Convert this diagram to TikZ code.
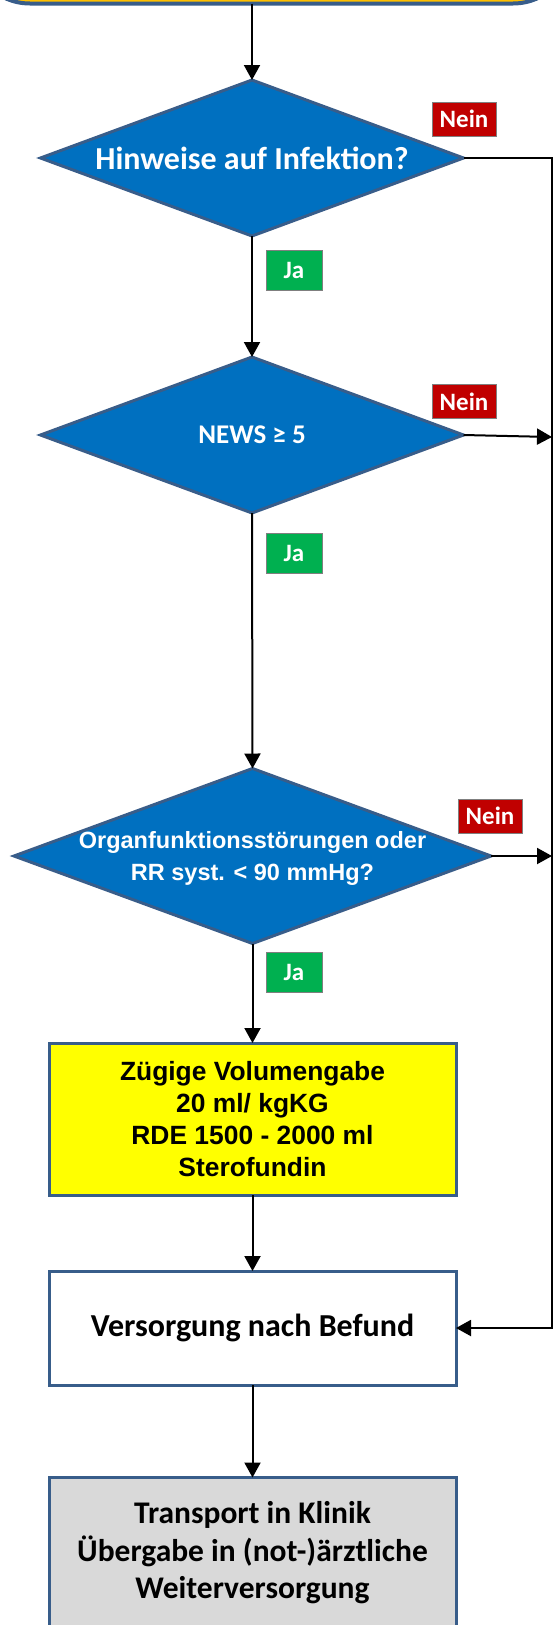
\documentclass[tikz,border=0pt]{standalone}
\usepackage{fontspec}
\setmainfont{Carlito}
\newfontfamily\arialfont{Liberation Sans}
\usetikzlibrary{shapes.geometric,arrows.meta}
\definecolor{outline}{HTML}{385D8A}
\definecolor{decblue}{HTML}{0070C0}
\definecolor{jagreen}{HTML}{00B050}
\definecolor{neinred}{HTML}{C00000}
\definecolor{topfill}{HTML}{FFC000}
\definecolor{grayfill}{HTML}{D9D9D9}
\definecolor{fluidfill}{HTML}{FFFF00}
\definecolor{tagedge}{HTML}{7F7F7F}

\begin{document}
\begin{tikzpicture}[x=1pt,y=-1pt,
  decision/.style={diamond, draw=outline, line width=3pt, fill=decblue,
    inner sep=0pt, outer sep=0pt},
  dtext/.style={text=white, align=center, inner sep=0pt},
  stepbox/.style={rectangle, draw=outline, line width=3pt, minimum width=407pt,
    align=center, inner sep=0pt, outer sep=0pt},
  tag/.style={rectangle, draw=tagedge, line width=0.8pt, text=white,
    font=\bfseries\fontsize{25}{30}\selectfont, inner sep=0pt},
  yes/.style={tag, fill=jagreen, minimum width=56pt, minimum height=40pt},
  no/.style={tag, fill=neinred, minimum width=64pt, minimum height=34pt},
  arr/.style={draw=black, line width=2pt, -{Triangle[width=16pt,length=15pt]}},
]
\useasboundingbox (0,0) rectangle (555,1625);

% box continuing above the top edge
\node[draw=outline, line width=4pt, fill=topfill, rounded corners=60pt,
  minimum width=603pt, minimum height=83.5pt, inner sep=0pt, outer sep=0pt]
  (start) at (271.5,-38.25) {};

% decisions
\node[decision, minimum width=423pt, minimum height=156pt] (d1) at (252,158) {};
\node[dtext, font=\bfseries\fontsize{32}{38}\selectfont] (t1) at (d1)
  {Hinweise auf Infektion?};

\node[decision, minimum width=423pt, minimum height=156pt] (d2) at (252,435) {};
\node[dtext, font=\bfseries\fontsize{27}{32}\selectfont] (t2) at (d2)
  {NEWS ≥ 5};

\node[decision, minimum width=477pt, minimum height=175pt] (d3) at (252.5,856) {};
\node[dtext, font=\arialfont\bfseries\fontsize{23.5}{32}\selectfont] (t3)
  at ([yshift=-2pt]d3.center)
  {Organfunktionsstörungen oder\\RR syst. < 90 mmHg?};

% actions
\node[stepbox, fill=fluidfill, minimum height=152pt,
  font=\arialfont\bfseries\fontsize{26.4}{31.7}\selectfont] (fluid) at (252.5,1119)
  {Zügige Volumengabe\\20 ml/ kgKG\\RDE 1500 - 2000 ml\\Sterofundin};

\node[stepbox, fill=white, minimum height=114pt,
  font=\bfseries\fontsize{32}{38}\selectfont] (care) at (252.5,1328)
  {Versorgung nach Befund};

\node[stepbox, fill=grayfill, minimum height=151pt,
  font=\bfseries\fontsize{31.5}{37.5}\selectfont] (handover) at (252.5,1553)
  {Transport in Klinik\\Übergabe in (not-)ärztliche\\Weiterversorgung};

% answer tags
\node[no]  (n1) at (464,119) {Nein};
\node[yes] (j1) at (294,270) {Ja};
\node[no]  (n2) at (464,401.5) {Nein};
\node[yes] (j2) at (294,553) {Ja};
\node[no]  (n3) at (490,816) {Nein};
\node[yes] (j3) at (294,972) {Ja};

% return rail on the right
\coordinate (rail) at (552,0);
\coordinate (rail2) at (552,437);

% main flow
\draw[arr] (start.south -| d1.north) -- (d1.north);
\draw[arr] (d1.south) -- (d2.north);
\draw[arr] (d2.south) -- (d3.north);
\draw[arr] (d3.south) -- (fluid.north);
\draw[arr] (fluid.south) -- (care.north);
\draw[arr] (care.south) -- (handover.north);

% "Nein" branches
\draw[arr] (d1.east) -- (d1.east -| rail) |- (care.east);
\draw[arr] (d2.east) -- (rail2);
\draw[arr] (d3.east) -- (d3.east -| rail);
\end{tikzpicture}
\end{document}
